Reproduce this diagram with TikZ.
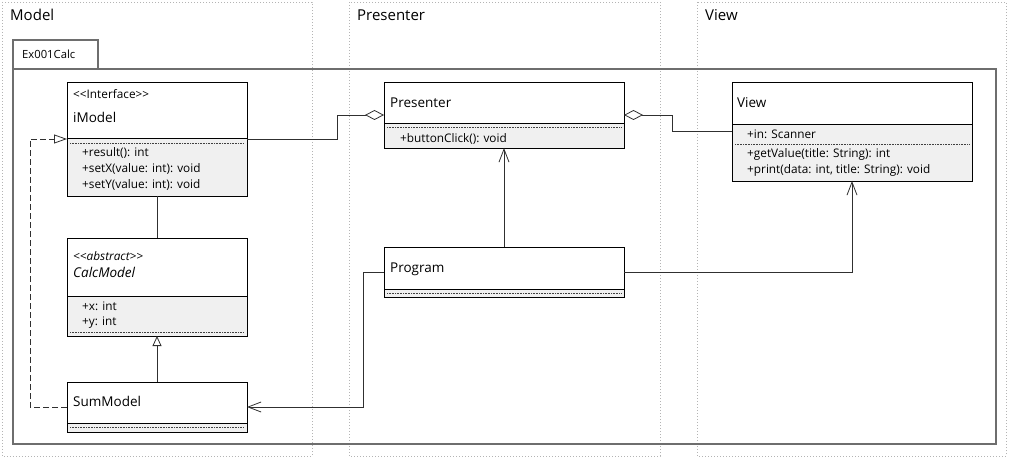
\documentclass[tikz,border=0pt]{standalone}
\usepackage{fontspec}
\setmainfont{Open Sans}
\usetikzlibrary{arrows.meta,calc}
\definecolor{cgray}{HTML}{F0F0F0}
\definecolor{lanec}{HTML}{B4B4B4}
\definecolor{pkgc}{HTML}{6E6E6E}
\definecolor{linec}{HTML}{303030}
\begin{document}
\begin{tikzpicture}[x=1pt,y=-1pt,
  cls/.style={draw=black, fill=cgray, line width=0.8pt, inner sep=0pt, outer sep=0pt, anchor=north west},
  hdr/.style={draw=black, fill=white, line width=0.8pt},
  sepdot/.style={draw=black!75, line width=0.6pt, dash pattern=on 0.8pt off 0.8pt},
  txt/.style={anchor=base west, inner sep=0pt, font=\fontsize{11.8}{13}\selectfont, text=black},
  cname/.style={anchor=base west, inner sep=0pt, font=\fontsize{13.5}{15}\selectfont},
  lanelbl/.style={anchor=base west, inner sep=0pt, font=\fontsize{15}{17}\selectfont},
  lane/.style={draw=lanec, line width=0.6pt, dash pattern=on 0.8pt off 2.2pt},
  pkg/.style={draw=pkgc, line width=1.4pt},
  conn/.style={draw=linec, line width=0.8pt},
  nav/.style={conn, -{Straight Barb[length=13pt,width=10pt]}},
  gen/.style={conn, -{Triangle[length=10pt,width=9pt,fill=white]}},
  real/.style={conn, dash pattern=on 6pt off 3pt, -{Triangle[length=13pt,width=9pt,fill=white]}},
  agg/.style={conn, -{Diamond[length=19pt,width=10pt,fill=white]}},
  aggs/.style={conn, {Diamond[length=19pt,width=10pt,fill=white]}-},
]
\useasboundingbox (0,0) rectangle (1009,457);
% lanes
\draw[lane] (2,2) rectangle (312,456);
\draw[lane] (349,2) rectangle (660,456);
\draw[lane] (697,2) rectangle (1006,456);
\node[lanelbl] (lm) at (10,20.7) {Model};
\node[lanelbl] (lp) at (357,20.7) {Presenter};
\node[lanelbl] (lv) at (705,20.7) {View};
% package
\draw[pkg] (13,40) rectangle (98,69);
\draw[pkg] (13,69) rectangle (996,444);
\node[anchor=base west, inner sep=0pt, font=\fontsize{11.25}{13}\selectfont] (pkgl) at (22,58.3) {Ex001Calc};

% iModel
\node[cls, minimum width=180pt, minimum height=114pt] (imodel) at (67,82) {};
\draw[hdr] (imodel.north west) rectangle ($(imodel.north east)+(0,56)$);
\draw[sepdot] ($(imodel.north west)+(3,61)$) -- ($(imodel.north east)+(-3,61)$);
\node[txt] (im1) at (73,98.7) {<\kern0pt<Interface>\kern0pt>};
\node[cname] (im2) at (73,122.7) {iModel};
\node[txt] (im3) at (82,156.7) {+result(): int};
\node[txt] (im4) at (82,172.5) {+setX(value: int): void};
\node[txt] (im5) at (82,188.3) {+setY(value: int): void};

% CalcModel
\node[cls, minimum width=180pt, minimum height=98pt] (calcmodel) at (67,238) {};
\draw[hdr] (calcmodel.north west) rectangle ($(calcmodel.north east)+(0,58)$);
\draw[sepdot] ($(calcmodel.north west)+(3,94)$) -- ($(calcmodel.north east)+(-3,94)$);
\node[txt, font=\fontsize{11.8}{13}\selectfont\itshape] (cm1) at (73,260.7) {<\kern0pt<abstract>\kern0pt>};
\node[cname, font=\fontsize{13.5}{15}\selectfont\itshape] (cm2) at (73,277.7) {CalcModel};
\node[txt] (cm3) at (82,310) {+x: int};
\node[txt] (cm4) at (82,325.7) {+y: int};

% SumModel
\node[cls, minimum width=180pt, minimum height=50pt] (summodel) at (67,382) {};
\draw[hdr] (summodel.north west) rectangle ($(summodel.north east)+(0,41)$);
\draw[sepdot] ($(summodel.north west)+(3,45.5)$) -- ($(summodel.north east)+(-3,45.5)$);
\node[cname] (sm1) at (73,406.7) {SumModel};

% Presenter
\node[cls, minimum width=240pt, minimum height=66pt] (presenter) at (384,82) {};
\draw[hdr] (presenter.north west) rectangle ($(presenter.north east)+(0,41)$);
\draw[sepdot] ($(presenter.north west)+(3,45)$) -- ($(presenter.north east)+(-3,45)$);
\node[cname] (pr1) at (390,107.7) {Presenter};
\node[txt] (pr2) at (400,142.3) {+buttonClick(): void};

% Program
\node[cls, minimum width=240pt, minimum height=50pt] (program) at (384,247) {};
\draw[hdr] (program.north west) rectangle ($(program.north east)+(0,42)$);
\draw[sepdot] ($(program.north west)+(3,46)$) -- ($(program.north east)+(-3,46)$);
\node[cname] (pg1) at (390,272) {Program};

% View
\node[cls, minimum width=240pt, minimum height=99pt] (view) at (732,82) {};
\draw[hdr] (view.north west) rectangle ($(view.north east)+(0,42)$);
\draw[sepdot] ($(view.north west)+(3,62)$) -- ($(view.north east)+(-3,62)$);
\node[cname] (vw1) at (737,107.3) {View};
\node[txt] (vw2) at (747,138.3) {+in: Scanner};
\node[txt] (vw3) at (747,157.7) {+getValue(title: String): int};
\node[txt] (vw4) at (747,173.3) {+print(data: int, title: String): void};

% connectors
\draw[agg] (imodel.east) -- ++(90,0) |- (presenter.west);
\draw[aggs] (presenter.east) -- ++(48,0) |- (view.west);
\draw[conn] (imodel.south) -- (calcmodel.north);
\draw[gen] (summodel.north) -- (calcmodel.south);
\draw[real] (summodel.west) -- ++(-37,0) |- (imodel.west);
\draw[nav] (program.north) -- (presenter.south);
\draw[nav] (program.east) -| (view.south);
\draw[nav] (program.west) -- ++(-21,0) |- (summodel.east);
\end{tikzpicture}
\end{document}
